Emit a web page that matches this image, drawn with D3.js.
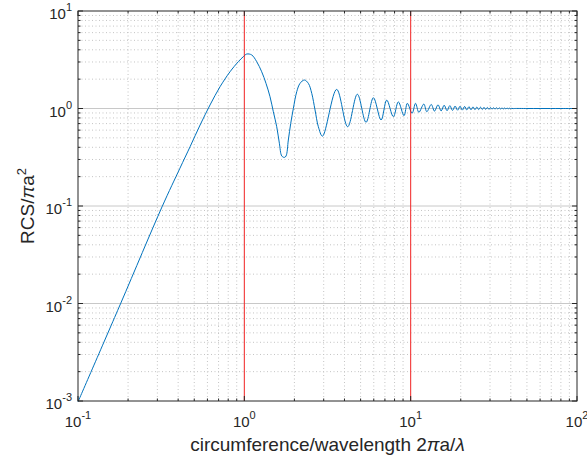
<!DOCTYPE html>
<html>
<head>
<meta charset="utf-8">
<script src="https://cdn.jsdelivr.net/npm/d3@7"></script>
<style>
  body { margin: 0; background: #fff; }
  text { font-family: "Liberation Sans", Arial, Helvetica, sans-serif; fill: #262626; }
</style>
</head>
<body>
<svg id="chart" width="587" height="462"></svg>
<script>
// Sphere RCS normalised by the physical cross-section, versus ka = 2πa/λ
const sizeParam = [
  0.1, 0.18, 0.32, 0.41, 0.472, 0.542, 0.622, 0.714, 0.82, 0.92, 0.986, 1.034,
  1.108, 1.187, 1.272, 1.35, 1.427, 1.494, 1.566, 1.624, 1.679, 1.74, 1.782,
  1.839, 1.901, 1.971, 2.066, 2.162, 2.295, 2.426, 2.543, 2.661, 2.786, 2.95,
  3.59, 4.18, 4.78, 5.39, 5.97, 6.64, 7.18, 7.87, 8.43, 9.12, 9.55, 10.2, 10.7,
  11.2, 12.0, 12.5, 13.3, 13.9, 14.6, 15.25, 15.9, 16.55, 17.2, 17.85, 18.5,
  19.15, 19.8, 20.45, 21.1, 21.75, 22.4, 23.05, 23.7, 24.35, 25.0, 25.65, 26.3,
  26.95, 27.6, 28.25, 28.9, 29.55, 30.2, 30.85, 31.5, 32.15, 32.8, 33.45, 34.1,
  34.75, 35.4, 36.05, 36.7, 37.35, 38.0, 38.65, 39.3, 39.95, 40.6, 41.25, 42,
  50, 60, 80, 100
];
const rcsNorm = [
  0.00098, 0.0099, 0.098, 0.244, 0.406, 0.677, 1.087, 1.67, 2.38, 3.02, 3.40, 3.62,
  3.54, 3.02, 2.38, 1.81, 1.32, 0.927, 0.65, 0.44, 0.326, 0.315, 0.326,
  0.475, 0.705, 1.0, 1.49, 1.81, 1.96, 1.81, 1.43, 0.966, 0.65, 0.52,
  1.57, 0.65, 1.40, 0.722, 1.29, 0.762, 1.22, 0.824, 1.17, 0.843, 1.13, 0.893, 1.13,
  0.914, 1.11, 0.927, 1.10, 0.94, 1.09, 0.945, 1.08, 0.95, 1.07, 0.955, 1.06,
  0.96, 1.055, 0.963, 1.05, 0.966, 1.045, 0.969, 1.04, 0.972, 1.035, 0.975, 1.032,
  0.977, 1.028, 0.979, 1.025, 0.981, 1.022, 0.983, 1.019, 0.985, 1.017, 0.987, 1.015,
  0.989, 1.013, 0.99, 1.011, 0.992, 1.009, 0.994, 1.007, 0.996, 1.005, 0.997, 1.0,
  1.0, 1.0, 1.0, 1.0
];
const xTickExps = [-1, 0, 1, 2];
const yTickExps = [-3, -2, -1, 0, 1];
const markerLines = [1, 10];
const xLabel = "circumference/wavelength 2";
const yLabel = "RCS/";

const svg = d3.select("#chart");
const L = 78, R = 577, T = 11, B = 401;
const x = d3.scaleLog().domain([0.1, 100]).range([L, R]);
const y = d3.scaleLog().domain([1e-3, 10]).range([B, T]);

svg.append("rect").attr("width", 587).attr("height", 462).attr("fill", "#fff");

// minor positions 2..9 × decade
function minors(lo, hi) {
  const out = [];
  for (let e = lo; e < hi; e++) for (let m = 2; m <= 9; m++) out.push(m * Math.pow(10, e));
  return out;
}
const xMinor = minors(-1, 2), yMinor = minors(-3, 1);
const xMajor = xTickExps.map(e => Math.pow(10, e));
const yMajor = yTickExps.map(e => Math.pow(10, e));

const grid = svg.append("g");
grid.selectAll(".xm").data(xMinor).join("line")
  .attr("x1", d => x(d)).attr("x2", d => x(d)).attr("y1", T).attr("y2", B)
  .attr("stroke", "#c4c4c4").attr("stroke-width", 1).attr("stroke-dasharray", "1,2.5");
grid.selectAll(".ym").data(yMinor).join("line")
  .attr("x1", L).attr("x2", R).attr("y1", d => y(d)).attr("y2", d => y(d))
  .attr("stroke", "#c4c4c4").attr("stroke-width", 1).attr("stroke-dasharray", "1,2.5");
grid.selectAll(".xM").data(xMajor.slice(1, -1)).join("line")
  .attr("x1", d => x(d)).attr("x2", d => x(d)).attr("y1", T).attr("y2", B)
  .attr("stroke", "#d9d9d9").attr("stroke-width", 1);
grid.selectAll(".yM").data(yMajor.slice(1, -1)).join("line")
  .attr("x1", L).attr("x2", R).attr("y1", d => y(d)).attr("y2", d => y(d))
  .attr("stroke", "#c8c8c8").attr("stroke-width", 1);

// the RCS curve
const pts = sizeParam.map((k, i) => [k, rcsNorm[i]]);
svg.append("path").datum(pts)
  .attr("fill", "none").attr("stroke", "#0072BD").attr("stroke-width", 1)
  .attr("d", d3.line().x(d => x(d[0])).y(d => y(d[1])).curve(d3.curveCatmullRom.alpha(0.5)));

// region boundaries
svg.selectAll(".mk").data(markerLines).join("line")
  .attr("x1", d => x(d)).attr("x2", d => x(d)).attr("y1", T).attr("y2", B)
  .attr("stroke", "#ff0000").attr("stroke-width", 1).attr("opacity", 0.8);

// axes box with inward ticks on all four sides
const ax = svg.append("g").attr("stroke", "#262626").attr("stroke-width", 1);
ax.append("rect").attr("x", L).attr("y", T).attr("width", R - L).attr("height", B - T)
  .attr("fill", "none");
const tickX = [...xMajor.map(v => [v, 5]), ...xMinor.map(v => [v, 2.5])];
const tickY = [...yMajor.map(v => [v, 5]), ...yMinor.map(v => [v, 2.5])];
tickX.forEach(([v, len]) => {
  ax.append("line").attr("x1", x(v)).attr("x2", x(v)).attr("y1", B).attr("y2", B - len);
  ax.append("line").attr("x1", x(v)).attr("x2", x(v)).attr("y1", T).attr("y2", T + len);
});
tickY.forEach(([v, len]) => {
  ax.append("line").attr("x1", L).attr("x2", L + len).attr("y1", y(v)).attr("y2", y(v));
  ax.append("line").attr("x1", R).attr("x2", R - len).attr("y1", y(v)).attr("y2", y(v));
});

// tick labels 10^n
function powLabel(g, e) {
  g.append("tspan").text("10");
  g.append("tspan").attr("font-size", 11).attr("dy", -8).text(String(e));
}
xTickExps.forEach(e => {
  const t = svg.append("text").attr("x", x(Math.pow(10, e))).attr("y", B + 26)
    .attr("font-size", 15).attr("text-anchor", "middle");
  powLabel(t, e);
});
yTickExps.forEach(e => {
  const t = svg.append("text").attr("x", L - 6).attr("y", y(Math.pow(10, e)) + 8)
    .attr("font-size", 15).attr("text-anchor", "end");
  powLabel(t, e);
});

// axis titles
const xt = svg.append("text").attr("x", (L + R) / 2).attr("y", 451)
  .attr("font-size", 19).attr("text-anchor", "middle");
xt.append("tspan").text(xLabel);
xt.append("tspan").attr("font-style", "italic").text("\u03C0");
xt.append("tspan").text("a/");
xt.append("tspan").attr("font-style", "italic").text("\u03BB");

const yt = svg.append("text")
  .attr("transform", `translate(34,${(T + B) / 2}) rotate(-90)`)
  .attr("font-size", 19).attr("text-anchor", "middle");
yt.append("tspan").text(yLabel);
yt.append("tspan").attr("font-style", "italic").text("\u03C0");
yt.append("tspan").text("a");
yt.append("tspan").attr("font-size", 13).attr("dy", -8).text("2");
</script>
</body>
</html>
